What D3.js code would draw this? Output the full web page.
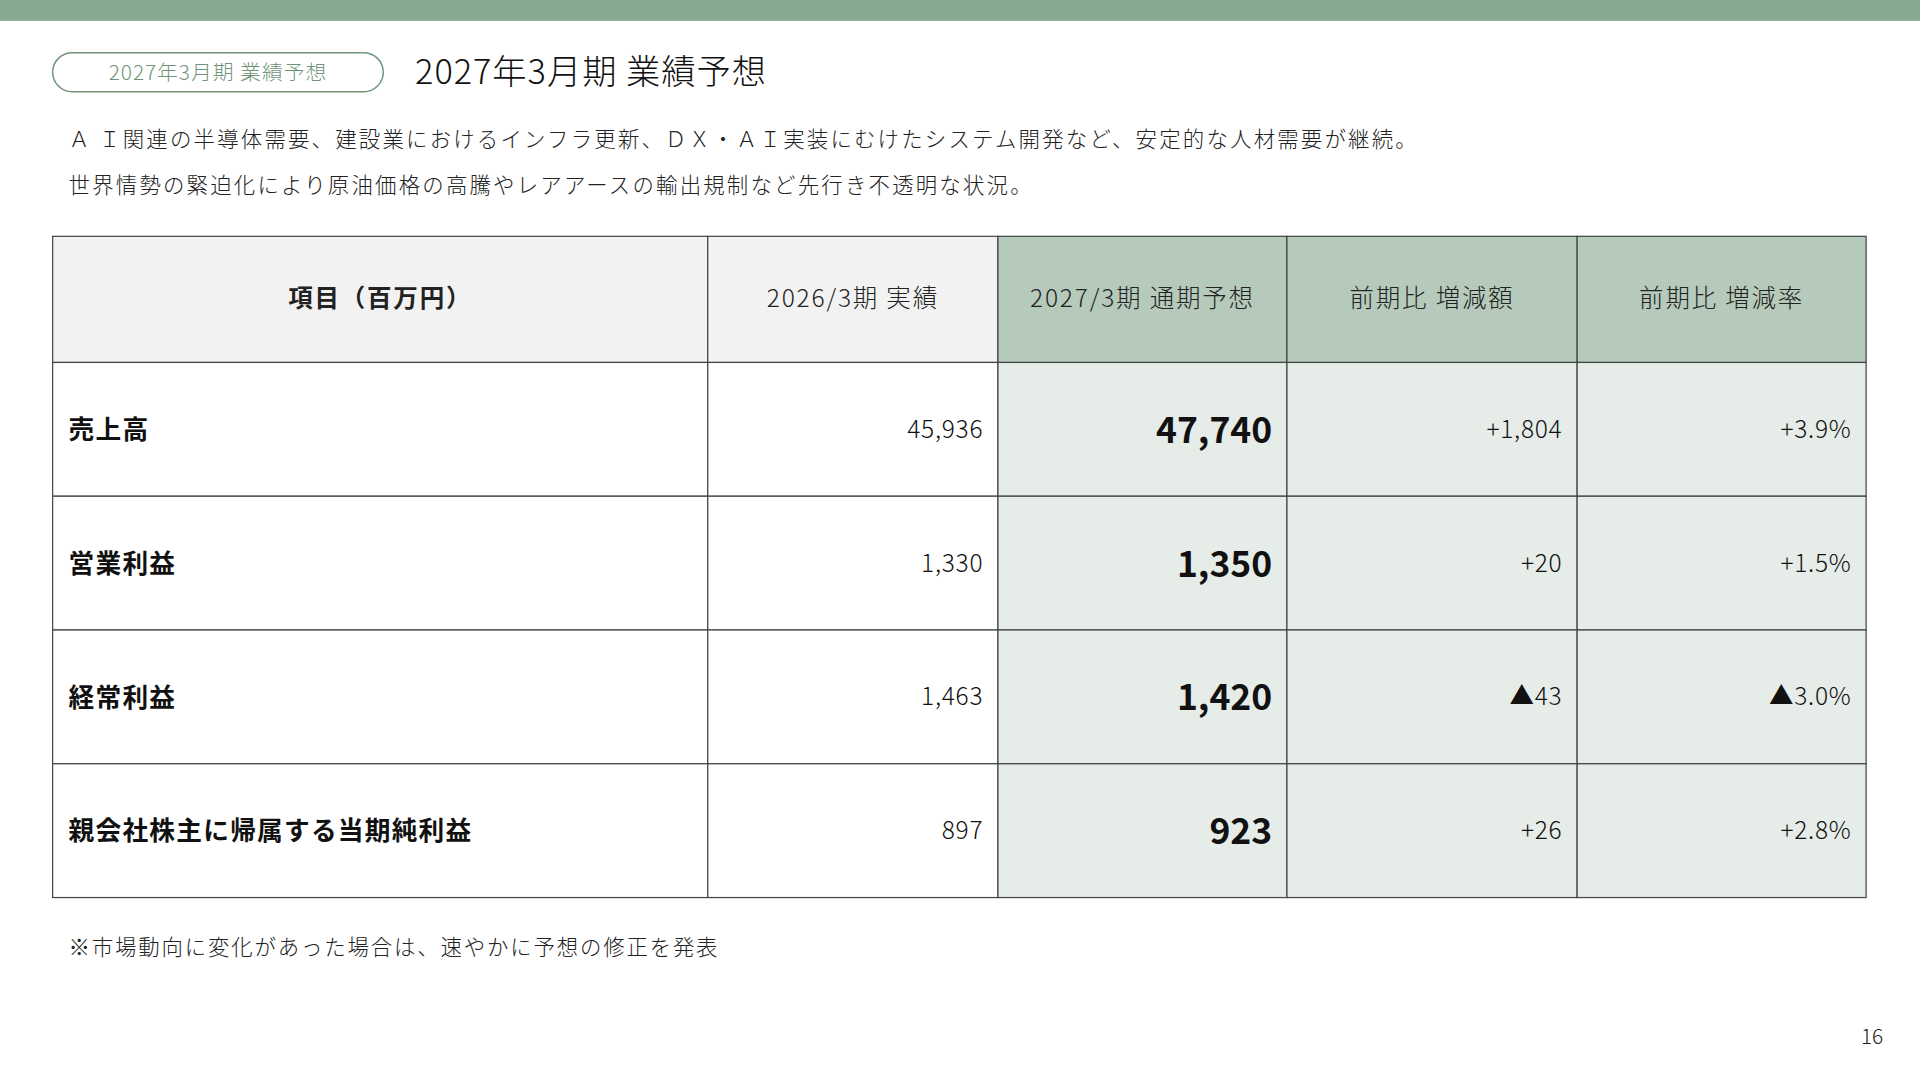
<!DOCTYPE html><html><head><meta charset="utf-8">
<script src="https://cdn.jsdelivr.net/npm/d3@7"></script>
<style>body{margin:0;background:#fff}svg{display:block}text{font-family:"Noto Sans CJK JP","Noto Sans",sans-serif}</style></head><body>
<script>
const headers=["項目（百万円）","2026/3期 実績","2027/3期 通期予想","前期比 増減額","前期比 増減率"];
const items=["売上高","営業利益","経常利益","親会社株主に帰属する当期純利益"];
const actual2026=["45,936","1,330","1,463","897"];
const forecast2027=["47,740","1,350","1,420","923"];
const diffAmount=["+1,804","+20","▲43","+26"];
const diffRate=["+3.9%","+1.5%","▲3.0%","+2.8%"];
const notes=["Ａ Ｉ関連の半導体需要、建設業におけるインフラ更新、ＤＸ・ＡＩ実装にむけたシステム開発など、安定的な人材需要が継続。","世界情勢の緊迫化により原油価格の高騰やレアアースの輸出規制など先行き不透明な状況。"];

const svg=d3.select("body").append("svg").attr("width",1920).attr("height",1080).attr("viewBox","0 0 1568 882");
svg.append("rect").attr("width",1568).attr("height",17).attr("fill","#87a991");
svg.append("rect").attr("x",43).attr("y",43).attr("width",270).attr("height",32).attr("rx",16).attr("fill","none").attr("stroke","#6f9479").attr("stroke-width",1.2);
svg.append("text").attr("x",178).attr("y",65).attr("text-anchor","middle").attr("font-size",17).attr("font-weight",300).attr("letter-spacing",0.8).attr("fill","#6f9479").text("2027年3月期 業績予想");
svg.append("text").attr("x",339).attr("y",69).attr("font-size",28).attr("font-weight",300).attr("letter-spacing",0.8).attr("fill","#111").text("2027年3月期 業績予想");
notes.forEach((n,i)=>svg.append("text").attr("x",56).attr("y",120+i*38).attr("font-size",17.5).attr("font-weight",300).attr("letter-spacing",1.8).attr("fill","#222").text(n));

const colX=[43,578,815,1051,1288,1524];
const rowY=d3.scaleLinear().domain([0,4]).range([296,733]);
const cols=[items,actual2026,forecast2027,diffAmount,diffRate];
headers.forEach((h,c)=>{
  svg.append("rect").attr("x",colX[c]).attr("y",193).attr("width",colX[c+1]-colX[c]).attr("height",103).attr("fill",c<2?"#f2f2f2":"#b6cabb").attr("stroke","#444").attr("stroke-width",1);
  svg.append("text").attr("x",(colX[c]+colX[c+1])/2).attr("y",251).attr("text-anchor","middle").attr("font-size",20).attr("font-weight",c==0?"bold":300).attr("letter-spacing",1.5).attr("fill","#222").text(h);
});
items.forEach((_,r)=>{
  const y0=rowY(r),y1=rowY(r+1),ym=(y0+y1)/2;
  cols.forEach((col,c)=>{
    svg.append("rect").attr("x",colX[c]).attr("y",y0).attr("width",colX[c+1]-colX[c]).attr("height",y1-y0).attr("fill",c<2?"#fff":"#e6ece7").attr("stroke","#444").attr("stroke-width",1);
    const t=svg.append("text").attr("fill","#111").text(col[r]);
    if(c==0) t.attr("x",56).attr("y",ym+8).attr("font-size",21).attr("font-weight","bold").attr("letter-spacing",1);
    else if(c==2) t.attr("x",colX[c+1]-12).attr("y",ym+11).attr("text-anchor","end").attr("font-size",29).attr("font-weight","bold");
    else t.attr("x",colX[c+1]-12).attr("y",ym+7).attr("text-anchor","end").attr("font-size",20).attr("font-weight",300).attr("letter-spacing",0.6);
  });
});
svg.append("text").attr("x",56).attr("y",780).attr("font-size",17.5).attr("font-weight",300).attr("letter-spacing",1.5).attr("fill","#222").text("※市場動向に変化があった場合は、速やかに予想の修正を発表");
svg.append("text").attr("x",1538).attr("y",853).attr("text-anchor","end").attr("font-size",17).attr("font-weight",300).attr("fill","#222").text("16");
</script></body></html>
